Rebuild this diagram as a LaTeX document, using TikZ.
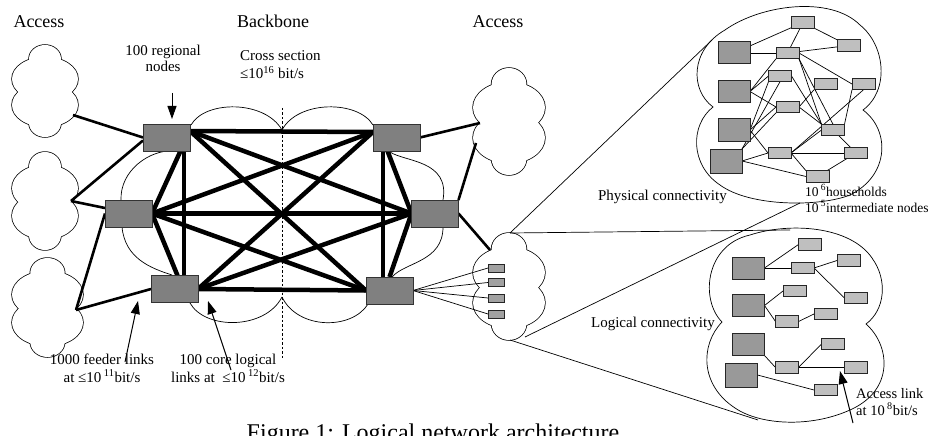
\documentclass[tikz,border=0pt]{standalone}
\usepackage{fontspec}
\setmainfont{Liberation Serif}
\usetikzlibrary{arrows.meta,calc}
\pgfdeclarelayer{clouds}
\pgfdeclarelayer{links}
\pgfsetlayers{clouds,links,main}

\tikzset{
  % access cloud: union of four ellipses, outline drawn wide and then filled white
  bumpcloud/.pic={
    \foreach \cy/\rx/\ry in {-32/16/14,-12/33/22,14/33/22,32/16/14}
      \draw[line width=1.5pt] (0,\cy) ellipse [x radius=\rx, y radius=\ry];
    \foreach \cy/\rx/\ry in {-32/16/14,-12/33/22,14/33/22,32/16/14}
      \fill[white] (0,\cy) ellipse [x radius=\rx, y radius=\ry];
  },
  regional/.style={draw=black!80, fill=black!50, line width=0.8pt,
    minimum width=47pt, minimum height=27pt, inner sep=0pt, outer sep=0pt},
  bigbox/.style={draw=black!85, fill=black!40, line width=1pt,
    minimum width=32pt, minimum height=22pt, inner sep=0pt, outer sep=0pt},
  smallbox/.style={draw=black!85, fill=black!25, line width=1pt,
    minimum width=23pt, minimum height=11.5pt, inner sep=0pt, outer sep=0pt},
  tinybox/.style={draw=black!85, fill=black!37, line width=0.8pt,
    minimum width=16pt, minimum height=8pt, inner sep=0pt, outer sep=0pt},
  core/.style={line width=4.5pt},
  feeder/.style={line width=2.6pt},
  fine/.style={line width=0.7pt},
  outline/.style={line width=0.7pt},
  ttl/.style={font=\fontsize{18}{21}\selectfont, inner sep=0pt},
  lbl/.style={font=\fontsize{15}{17}\selectfont, inner sep=0pt},
  pointer/.style={line width=1pt, -{Triangle[length=13pt,width=9pt]}},
}

\begin{document}
\begin{tikzpicture}[x=1pt,y=-1pt]
\useasboundingbox (0,0) rectangle (930,436);

% ---------- backbone nodes ----------
\node[regional] (A) at (166.5,137.5) {};
\node[regional] (B) at (128.5,213.5) {};
\node[regional] (C) at (174.5,289) {};
\node[regional] (D) at (396.5,137.5) {};
\node[regional] (E) at (435,213.5) {};
\node[regional] (F) at (389.5,290.5) {};

% access nodes inside the lower right cloud
\node[tinybox] (q1) at (496,268) {};
\node[tinybox] (q2) at (496,282.5) {};
\node[tinybox] (q3) at (496,298) {};
\node[tinybox] (q4) at (496,314) {};

% ---------- physical connectivity detail ----------
\node[bigbox] (P1) at (734,53) {};
\node[bigbox] (P2) at (734,91.5) {};
\node[bigbox] (P3) at (734,130) {};
\node[bigbox, minimum height=24pt] (P4) at (726,161) {};
\node[smallbox] (s1) at (803,22.5) {};
\node[smallbox] (s2) at (848.5,45.5) {};
\node[smallbox] (s3) at (787.5,53) {};
\node[smallbox] (s4) at (780,76) {};
\node[smallbox] (s5) at (825.5,84) {};
\node[smallbox] (s6) at (863.5,84) {};
\node[smallbox] (s7) at (787.5,107) {};
\node[smallbox] (s8) at (833,130) {};
\node[smallbox] (s9) at (779.5,153) {};
\node[smallbox] (s10) at (856,153) {};
\node[smallbox] (s11) at (817.5,176.5) {};

% ---------- logical connectivity detail ----------
\node[bigbox] (L1) at (748.5,268) {};
\node[bigbox] (L2) at (748.5,305.5) {};
\node[bigbox] (L3) at (748.5,344.5) {};
\node[bigbox, minimum height=24pt] (L4) at (741.5,375) {};
\node[smallbox] (t1) at (810,244.5) {};
\node[smallbox] (t2) at (802.5,268) {};
\node[smallbox] (t3) at (848.5,260.5) {};
\node[smallbox] (t4) at (794.5,291) {};
\node[smallbox] (t5) at (856,298) {};
\node[smallbox] (t6) at (787,321.5) {};
\node[smallbox] (t7) at (825.5,314) {};
\node[smallbox] (t8) at (833,344) {};
\node[smallbox] (t9) at (787,367.5) {};
\node[smallbox] (t10) at (856,367.5) {};
\node[smallbox] (t11) at (825.5,390) {};

% ---------- attachment points ----------
\coordinate (Ahub)  at ($(A.north east)+(0,7)$);
\coordinate (Abot)  at ($(A.south)+(14,0)$);
\coordinate (Avert) at ($(A.south)+(17.5,0)$);
\coordinate (Ctop)  at ($(C.north)+(3,0)$);
\coordinate (Cvert) at ($(C.north)+(9.5,0)$);
\coordinate (Dhub)  at ($(D.north west)+(0,8)$);
\coordinate (Dvert) at ($(D.south)+(-13.5,0)$);
\coordinate (Dbot)  at ($(D.south)+(-9,0)$);
\coordinate (Fvert) at ($(F.north)+(-6.5,0)$);

\coordinate (c1p) at (73,115);
\coordinate (c2p) at (71,201);
\coordinate (c3p) at (76,310);
\coordinate (r1p) at (480,123);
\coordinate (r1q) at (476,143);
\coordinate (r2p) at (490,250);
\coordinate (r2top) at (510,233);
\coordinate (r2side) at (525,337);
\coordinate (r2bot) at (510,340);
\coordinate (upTL) at (712,40);
\coordinate (upBot) at (800,203);
\coordinate (loTop) at (790,230);
\coordinate (loBot) at (758,420);

% ---------- clouds ----------
\begin{pgfonlayer}{clouds}
  \pic at (45,91) {bumpcloud};
  \pic[yscale=1.065] at (45,201) {bumpcloud};
  \pic[xscale=1.076,yscale=1.076] at (47.5,307.5) {bumpcloud};
  \pic[xscale=1.09,yscale=1.163] at (509,121.5) {bumpcloud};
  \pic[xscale=1.09,yscale=1.163] at (509,286.5) {bumpcloud};

  % backbone region outline
  \draw[outline] (191,125) .. controls (205,100) and (265,100) .. (282,130);
  \draw[outline] (282,130) .. controls (298,100) and (358,100) .. (373,125);
  \draw[outline] (172,151) .. controls (150,150) and (120,170) .. (121,200);
  \draw[outline] (122,227) .. controls (125,258) and (150,268) .. (172,275);
  \draw[outline] (190,303) .. controls (205,330) and (265,330) .. (282,297);
  \draw[outline] (282,297) .. controls (298,330) and (352,330) .. (368,304);
  \draw[outline] (390,152) .. controls (405,162) and (450,160) .. (443,200);
  \draw[outline] (443,227) .. controls (443,262) and (405,262) .. (392,277);

  % cross-section marker
  \draw[fine, dash pattern=on 2.5pt off 2pt] (282,108) -- (282,358);

  % detail regions
  \draw[outline] (713,107) .. controls (690,90) and (690,50) .. (725,30)
    .. controls (760,5) and (830,-5) .. (860,25)
    .. controls (885,45) and (890,90) .. (863,110)
    .. controls (890,130) and (890,175) .. (850,195)
    .. controls (820,207) and (750,207) .. (720,185)
    .. controls (690,165) and (690,125) .. (713,107) -- cycle;
  \draw[outline] (722,322) .. controls (700,300) and (705,245) .. (750,235)
    .. controls (790,222) and (850,226) .. (872,258)
    .. controls (888,280) and (885,310) .. (866,324)
    .. controls (890,345) and (895,390) .. (850,410)
    .. controls (810,428) and (760,425) .. (735,408)
    .. controls (700,385) and (700,345) .. (722,322) -- cycle;
\end{pgfonlayer}

% ---------- links ----------
\begin{pgfonlayer}{links}
  % core logical links (full mesh)
  \draw[core] (Ahub) -- (Dhub);
  \draw[core] (Ahub) -- (E.west);
  \draw[core] (Ahub) -- (F.west);
  \draw[core] (Abot) -- (B.east);
  \draw[core] (Avert) -- (Cvert);
  \draw[core] (B.east) -- (Ctop);
  \draw[core] (B.east) -- (Dhub);
  \draw[core] (B.east) -- (E.west);
  \draw[core] (B.east) -- (F.west);
  \draw[core] (C.east) -- (Dhub);
  \draw[core] (C.east) -- (E.west);
  \draw[core] (C.east) -- (F.west);
  \draw[core] (Dbot) -- (E.west);
  \draw[core] (Dvert) -- (Fvert);
  \draw[core] (F.north) -- (E.west);

  % feeder links
  \draw[feeder] (c1p) -- (A.west);
  \draw[feeder] (c2p) -- ([yshift=-3pt]A.west);
  \draw[feeder] (c2p) -- ([yshift=5.5pt]B.west);
  \draw[feeder] (c3p) -- (B.west);
  \draw[feeder] (c3p) -- (C.west);
  \draw[feeder] (D.east) -- (r1p);
  \draw[feeder] (E.north east) -- (r1q);
  \draw[feeder] (E.east) -- (r2p);

  % access links
  \foreach \q in {q1,q2,q3,q4}
    \draw[fine] (F.east) -- (\q.west);

  % magnification rays
  \draw[fine] (r2top) -- (upTL);
  \draw[fine] (r2top) -- (loTop);
  \draw[fine] (r2side) -- (upBot);
  \draw[fine] (r2bot) -- (loBot);

  % physical connectivity mesh
  \draw[fine] (P1) -- (s1);
  \draw[fine] (P1) -- (s3);
  \draw[fine] (s1) -- (s3);
  \draw[fine] (s1) -- (s2);
  \draw[fine] (s3) -- (s2);
  \draw[fine] (s3.east) -- (s6.west);
  \draw[fine] (s3.south east) -- (s8.north west);
  \draw[fine] (s3.south east) -- (s8.north);
  \draw[fine] (P2.east) -- (s3.south west);
  \draw[fine] (P2.east) -- (s4.west);
  \draw[fine] (P2.east) -- (s7.west);
  \draw[fine] (P3.east) -- (s4.south west);
  \draw[fine] (P3.east) -- (s7.west);
  \draw[fine] (P3.east) -- (s9.west);
  \draw[fine] (P4.north east) -- (s4.south);
  \draw[fine] (P4.north east) -- (s7.south west);
  \draw[fine] (P4.east) -- (s9.west);
  \draw[fine] (P4.east) -- (s11.west);
  \draw[fine] (s4.east) -- (s8.north west);
  \draw[fine] (s7.east) -- (s5.south west);
  \draw[fine] (s7.east) -- (s8.north west);
  \draw[fine] (s9.east) -- (s8.west);
  \draw[fine] (s9.east) -- (s6.south);
  \draw[fine] (s9.east) -- (s10.west);
  \draw[fine] (s9.east) -- (s11.north west);
  \draw[fine] (s8) -- (s10);
  \draw[fine] (s8.north east) -- (s6.south west);
  \draw[fine] (s10) -- (s11);

  % logical connectivity trees
  \draw[fine] (L1.east) -- (t1.west);
  \draw[fine] (L1.east) -- (t2.west);
  \draw[fine] (t2.east) -- (t3.west);
  \draw[fine] (t2.east) -- (t5.west);
  \draw[fine] (L2.east) -- (t4.west);
  \draw[fine] (L2.east) -- (t6.west);
  \draw[fine] (t6.east) -- (t7.west);
  \draw[fine] (L3.south east) -- (t9.west);
  \draw[fine] (t9.east) -- (t8.west);
  \draw[fine] (t9.east) -- (t10.west);
  \draw[fine] (L4.east) -- (t11.west);
\end{pgfonlayer}

% ---------- labels ----------
\node[ttl, anchor=base] (accL) at (39,28) {Access};
\node[ttl, anchor=base] (bbone) at (273,28) {Backbone};
\node[ttl, anchor=base] (accR) at (498,28) {Access};

\node[lbl, align=center, anchor=base] (regl) at (163,72) {100 regional\\[-1pt]nodes};
\node[lbl, align=left, anchor=base west, font=\fontsize{15}{18}\selectfont] (cross) at (240,79)
  {Cross section\\≤10\textsuperscript{16} bit/s};
\node[lbl, align=center, anchor=base, font=\fontsize{15}{18}\selectfont] (feedl) at (102,382)
  {1000 feeder links\\at ≤10\,\textsuperscript{11}bit/s};
\node[lbl, align=center, anchor=base, font=\fontsize{15}{18}\selectfont] (corel) at (228,382)
  {100 core logical\\links at~~≤10\,\textsuperscript{12}bit/s};
\node[lbl, anchor=base east] (phys) at (727,200) {Physical connectivity};
\node[lbl, align=left, anchor=base west, font=\fontsize{13.5}{16}\selectfont] (house) at (805,212)
  {10\,\textsuperscript{6}households\\10\,\textsuperscript{5}intermediate nodes};
\node[lbl, anchor=base east] (logi) at (715,327) {Logical connectivity};
\node[lbl, align=left, anchor=base west, font=\fontsize{14.5}{17}\selectfont] (accl) at (856,415)
  {Access link\\at 10\,\textsuperscript{8}bit/s};

\node[font=\fontsize{24}{28}\selectfont, inner sep=0pt, anchor=base] (cap) at (433,440)
  {Figure 1: Logical network architecture};

% ---------- pointers ----------
\coordinate (regtail) at (172,93);   \coordinate (regtip) at (172,119);
\coordinate (feedtail) at (125,362); \coordinate (feedtip) at (138,301);
\coordinate (coretail) at (231,370); \coordinate (coretip) at (208,301);
\coordinate (acctail) at (853,423);  \coordinate (acctip) at (840,371);
\draw[pointer] (regtail) -- (regtip);
\draw[pointer] (feedtail) -- (feedtip);
\draw[pointer] (coretail) -- (coretip);
\draw[pointer] (acctail) -- (acctip);
\end{tikzpicture}
\end{document}
